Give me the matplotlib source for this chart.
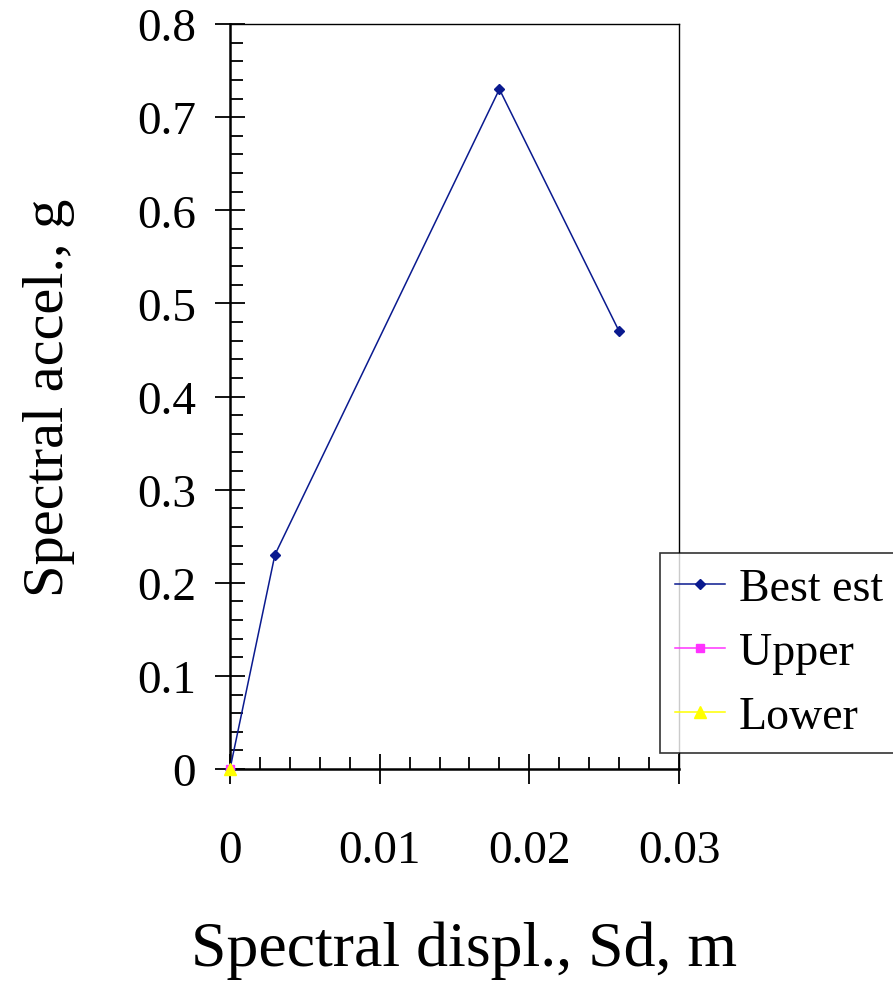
import numpy as np
import matplotlib.pyplot as plt
from matplotlib.ticker import MultipleLocator, FuncFormatter

# data
sd_best = [0.0, 0.003, 0.018, 0.026]
sa_best = [0.0, 0.23, 0.73, 0.47]
sd_upper = [0.0]
sa_upper = [0.0]
sd_lower = [0.0]
sa_lower = [0.0]

x_ticks = [0, 0.01, 0.02, 0.03]
y_ticks = [0, 0.1, 0.2, 0.3, 0.4, 0.5, 0.6, 0.7, 0.8]

plt.rcParams['font.family'] = ['Liberation Serif', 'DejaVu Serif']

W, H = 893, 987
fig = plt.figure(figsize=(W / 100, H / 100), dpi=100)
ax = fig.add_axes([230 / W, 1 - 770 / H, 449 / W, 745 / H])

ax.plot(sd_best, sa_best, color='#0a1a8f', lw=1.1, marker='D', ms=5,
        label='Best est', clip_on=False, zorder=3)
ax.plot(sd_upper, sa_upper, color='#ff33ff', lw=1.1, marker='s', ms=6,
        label='Upper', clip_on=False, zorder=4)
ax.plot(sd_lower, sa_lower, color='#ffff00', lw=1.1, marker='^', ms=8,
        label='Lower', clip_on=False, zorder=5)

ax.set_xlim(0, 0.03)
ax.set_ylim(0, 0.8)
ax.set_xticks(x_ticks)
ax.set_yticks(y_ticks)
ax.xaxis.set_minor_locator(MultipleLocator(0.002))
ax.yaxis.set_minor_locator(MultipleLocator(0.02))
fmt = FuncFormatter(lambda v, p: '0' if v == 0 else f'{v:g}')
ax.xaxis.set_major_formatter(fmt)
ax.yaxis.set_major_formatter(fmt)

ax.tick_params(which='major', direction='inout', length=21, width=1.3,
               labelsize=34, top=False, right=False)
ax.tick_params(which='minor', direction='in', length=9, width=1.3,
               top=False, right=False)
ax.tick_params(axis='x', which='major', pad=33)
ax.tick_params(axis='y', which='major', pad=14)

for s in ['left', 'bottom']:
    ax.spines[s].set_linewidth(1.8)
for s in ['top', 'right']:
    ax.spines[s].set_linewidth(1.0)

ax.set_xlabel('Spectral displ., Sd, m', fontsize=46)
ax.set_ylabel('Spectral accel., g', fontsize=42)
ax.xaxis.set_label_coords(0.521, -0.203)
ax.yaxis.set_label_coords(-0.345, 0.5)

leg = fig.legend(loc='upper left', bbox_to_anchor=(660 / W, 1 - 554 / H),
                 fontsize=33, frameon=True, fancybox=False, edgecolor='black',
                 handlelength=1.1, handletextpad=0.3, labelspacing=0.47,
                 borderpad=0.32, borderaxespad=0)
leg.get_frame().set_linewidth(1.2)

fig.savefig('out.png', dpi=100)
